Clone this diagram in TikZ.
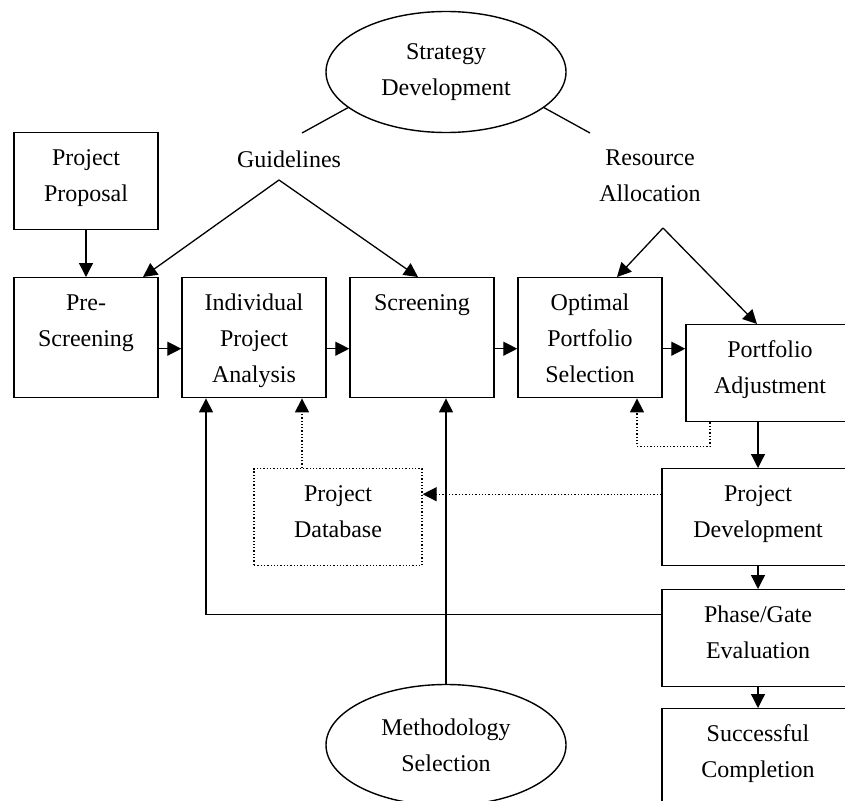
\documentclass[tikz,border=0pt]{standalone}
\usepackage{fontspec}
\setmainfont{Liberation Serif}
\usetikzlibrary{arrows.meta,shapes.geometric}
\tikzset{blk/.style={draw,line width=1.4pt,inner sep=0pt,align=center,text width=#1,minimum width=#1,text height=33pt,text depth=64pt},blk/.default=144pt,
tall/.style={blk,text depth=87pt},
oval/.style={draw,ellipse,line width=1.4pt,minimum width=240pt,minimum height=121pt,align=center,inner sep=0pt},
arr/.style={line width=1.3pt,-{Triangle[length=14pt,width=14pt]}},
dl/.style={line width=1.3pt,dotted}}
\begin{document}
\begin{tikzpicture}[x=1pt,y=-1pt,font=\fontsize{24pt}{36pt}\selectfont]
\useasboundingbox(0,0)rectangle(845,800);\clip(0,0)rectangle(845,800);
% ovals and free labels
\node[oval](strat)at(446,72){Strategy\\Development};
\node[oval](meth)at(446,745){Methodology\\Selection};
\node(guide)at(289,159){Guidelines};
\node[align=center](res)at(650,176){Resource\\Allocation};
\coordinate(gend)at(302,133);\coordinate(rend)at(590,133);
\coordinate(gtop)at(279,180);\coordinate(rtop)at(663,228);
% process boxes
\node[blk,anchor=north](prop)at(86,132){Project\\Proposal};
\node[tall,anchor=north](pre)at(86,277){Pre-\\Screening};
\node[tall,anchor=north](ind)at(254,277){Individual\\Project\\Analysis};
\node[tall,anchor=north](scr)at(422,277){Screening};
\node[tall,anchor=north](opt)at(590,277){Optimal\\Portfolio\\Selection};
\node[blk=168pt,anchor=north](port)at(770,324){Portfolio\\Adjustment};
\node[blk=168pt,dl,anchor=north](db)at(338,468){Project\\Database};
\node[blk=192pt,anchor=north](dev)at(758,468){Project\\Development};
\node[blk=192pt,anchor=north](gate)at(758,589){Phase/Gate\\Evaluation};
\node[blk=192pt,anchor=north](done)at(758,708){Successful\\Completion};
% connectors
\draw[line width=1.3pt](strat.200)--(gend);\draw[line width=1.3pt](strat.340)--(rend);
\draw[arr](gtop)--([xshift=57pt]pre.north);\draw[arr](gtop)--([xshift=-4pt]scr.north);
\draw[arr](rtop)--([xshift=27pt]opt.north);\draw[arr](rtop)--([xshift=-13pt]port.north);
\draw[arr](prop)--(pre);
\foreach \a/\b in {pre/ind,ind/scr,scr/opt,opt/port}\draw[arr]([yshift=-11pt]\a.east)--([yshift=-11pt]\a.east-|\b.west);
\draw[arr]([xshift=-12pt]port.south)--(dev);\draw[arr](dev)--(gate);\draw[arr](gate)--(done);
\draw[arr,dl]([xshift=-60pt]port.south)--++(0,24)-|([xshift=47pt]opt.south);
\draw[arr,dl]([yshift=23pt]dev.west)--([yshift=23pt]dev.west-|db.east);
\draw[arr,dl]([xshift=-36pt]db.north)--([xshift=-36pt]db.north|-ind.south);
\draw[arr]([yshift=24pt]gate.west)-|([xshift=-48pt]ind.south);
\draw[arr](meth)--(meth|-scr.south);
\end{tikzpicture}
\end{document}
